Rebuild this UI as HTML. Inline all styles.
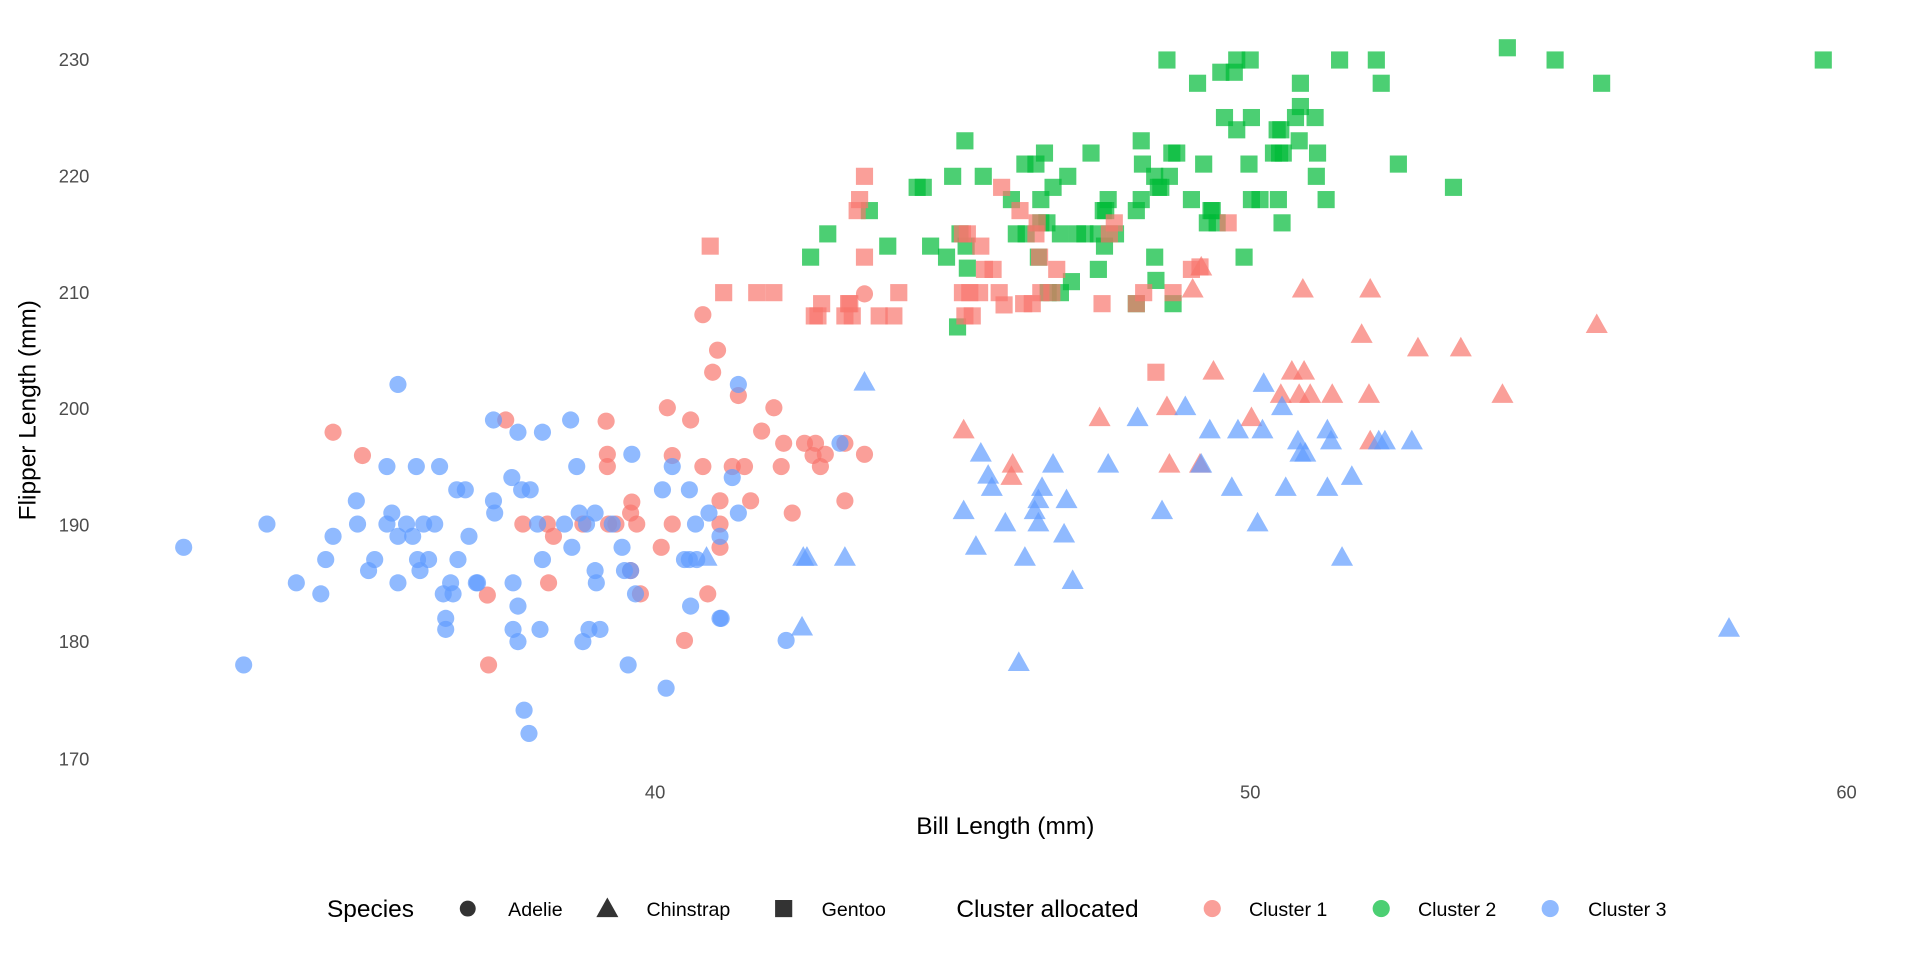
<!DOCTYPE html>
<html><head><meta charset="utf-8"><style>
html,body{margin:0;padding:0;background:#fff;width:1920px;height:960px;overflow:hidden}
text{font-family:"Liberation Sans",sans-serif}
</style></head><body>
<svg id="s" width="1920" height="960" viewBox="0 0 1568 784" xmlns="http://www.w3.org/2000/svg">
<g font-size="15" fill="#4d4d4d" text-anchor="end">
<text x="73" y="54">230</text><text x="73" y="149">220</text><text x="73" y="244">210</text>
<text x="73" y="339">200</text><text x="73" y="434">190</text><text x="73" y="529">180</text>
<text x="73" y="625">170</text>
</g>
<g font-size="15" fill="#4d4d4d" text-anchor="middle">
<text x="535" y="652">40</text><text x="1021" y="652">50</text><text x="1508" y="652">60</text>
</g>
<text x="821" y="681" font-size="20" text-anchor="middle" fill="#000">Bill Length (mm)</text>
<text transform="translate(29,335) rotate(-90)" font-size="20" text-anchor="middle" fill="#000">Flipper Length (mm)</text>
<g id="pts"></g>
<g font-size="20" fill="#000"><text x="267" y="749">Species</text><text x="781" y="749">Cluster allocated</text></g>
<g font-size="16" fill="#000">
<text x="415" y="748">Adelie</text><text x="528" y="748">Chinstrap</text><text x="671" y="748">Gentoo</text>
<text x="1020" y="748">Cluster 1</text><text x="1158" y="748">Cluster 2</text><text x="1297" y="748">Cluster 3</text>
</g>
<g fill="#333">
<circle cx="382" cy="742" r="6.5"/>
<polygon points="496,733 505,749 487,749"/>
<rect x="633" y="735" width="14" height="14"/>
</g>
<g opacity="0.7">
<circle cx="990" cy="742" r="7" fill="#F8766D"/>
<circle cx="1128" cy="742" r="7" fill="#00BA38"/>
<circle cx="1266" cy="742" r="7" fill="#619CFF"/>
</g>
</svg>
<script>
var R="#F8766D",G="#00BA38",B="#619CFF";
var rc=[[272,353],[296,372],[413,343],[398,486],[399,543],[427,428],[447,428],[452,438],[448,476],[476,428],[496,371],[496,381],[495,344],[497,428],[503,428],[515,419],[516,410],[520,428],[515,466],[523,485],[540,447],[545,333],[549,372],[549,428],[559,523],[564,343],[574,257],[574,381],[578,485],[582,304],[586,286],[588,409],[588,428],[588,447],[598,381],[603,323],[608,381],[613,409],[622,352],[632,333],[638,381],[640,362],[647,419],[657,362],[666,362],[670,381],[674,371],[690,362],[690,409],[706,240],[706,371],[664,372]];
var bc=[[150,447],[199,543],[218,428],[242,476],[262,485],[266,457],[272,438],[291,409],[292,428],[301,466],[306,457],[316,381],[320,419],[316,428],[325,314],[325,476],[325,438],[332,428],[337,438],[340,381],[341,457],[343,466],[346,428],[350,457],[355,428],[359,381],[362,485],[364,505],[364,514],[368,476],[370,485],[373,400],[374,457],[380,400],[383,438],[389,476],[390,476],[403,343],[403,409],[404,419],[418,390],[419,514],[419,476],[423,524],[423,353],[423,495],[426,400],[428,580],[432,599],[433,400],[439,428],[441,514],[443,353],[443,457],[461,428],[466,343],[467,447],[471,381],[473,419],[476,524],[479,428],[481,514],[486,419],[486,466],[487,476],[490,514],[500,428],[508,447],[510,466],[513,543],[516,371],[515,466],[519,485],[541,400],[544,562],[549,381],[559,457],[563,457],[563,400],[564,495],[568,428],[579,419],[588,438],[588,505],[589,505],[598,390],[603,314],[603,419],[642,523],[686,362],[569,457]];
var gs=[[953,49],[1010,49],[1021,49],[1094,49],[1124,49],[1231,39],[1270,49],[1489,49],[997,59],[1008,59],[1062,68],[1128,68],[1308,68],[978,68],[1000,96],[1022,96],[1062,87],[1058,96],[1046,106],[1074,96],[1010,106],[1043,106],[1061,115],[1048,125],[1076,125],[1040,125],[1045,125],[1020,134],[1142,134],[1075,144],[1187,153],[1083,163],[1029,163],[1022,163],[1047,182],[1016,210],[933,134],[943,144],[948,153],[955,144],[983,134],[946,153],[961,125],[932,115],[853,125],[860,153],[891,125],[872,144],[957,125],[905,163],[903,172],[973,163],[990,172],[994,182],[989,172],[1044,163],[932,163],[928,172],[986,182],[788,115],[749,153],[778,144],[803,144],[837,134],[846,134],[826,163],[850,163],[866,191],[880,191],[886,191],[897,191],[902,201],[911,191],[901,172],[838,191],[830,191],[850,182],[856,239],[866,239],[875,230],[897,220],[943,210],[958,248],[928,248],[944,229],[789,201],[790,219],[760,201],[773,210],[784,191],[782,267],[754,153],[710,172],[676,191],[662,210],[725,201],[848,210],[855,182]];
var rs=[[706,144],[702,163],[706,210],[700,172],[580,201],[591,239],[618,239],[632,239],[668,258],[671,248],[694,248],[696,258],[690,258],[718,258],[730,258],[734,239],[786,191],[790,191],[786,239],[792,239],[800,239],[801,201],[804,220],[811,220],[816,239],[818,153],[833,172],[836,248],[843,248],[846,191],[847,182],[849,210],[850,239],[859,239],[863,220],[788,258],[794,258],[900,248],[906,191],[910,182],[928,248],[934,239],[944,304],[958,239],[973,220],[980,218],[1003,182],[665,258],[693,248],[820,249]];
var rt=[[787,351],[898,341],[953,332],[981,218],[1064,236],[1119,236],[974,236],[1112,273],[1158,284],[1193,284],[1304,265],[1227,322],[1088,322],[1118,322],[1065,303],[1055,303],[1070,322],[1046,322],[1022,341],[955,379],[980,379],[1061,322],[1119,360],[827,379],[826,389],[991,303]];
var bt=[[706,312],[655,512],[656,455],[659,455],[690,455],[801,370],[807,388],[810,398],[787,417],[797,446],[821,427],[832,541],[837,455],[848,427],[845,417],[848,408],[851,398],[860,379],[869,436],[871,408],[876,474],[905,379],[929,341],[949,417],[968,332],[981,379],[988,351],[1006,398],[1011,351],[1027,427],[1031,351],[1047,332],[1050,398],[1060,360],[1062,370],[1066,370],[1084,398],[1084,351],[1087,360],[1096,455],[1104,389],[1126,360],[1131,360],[1153,360],[1032,313],[1412,513],[577,455]];
var h="";
function C(a,c){a.forEach(function(p){h+='<circle cx="'+p[0]+'" cy="'+p[1]+'" r="7" fill="'+c+'" fill-opacity="0.7"/>';});}
function S(a,c){a.forEach(function(p){h+='<rect x="'+(p[0]-7)+'" y="'+(p[1]-7)+'" width="14" height="14" fill="'+c+'" fill-opacity="0.7"/>';});}
function T(a,c){a.forEach(function(p){var x=p[0],y=p[1];h+='<polygon points="'+x+','+(y-9)+' '+(x+9)+','+(y+7)+' '+(x-9)+','+(y+7)+'" fill="'+c+'" fill-opacity="0.7"/>';});}
C(rc,R);C(bc,B);S(gs,G);S(rs,R);T(rt,R);T(bt,B);
document.getElementById("pts").innerHTML=h;
</script>
</body></html>
